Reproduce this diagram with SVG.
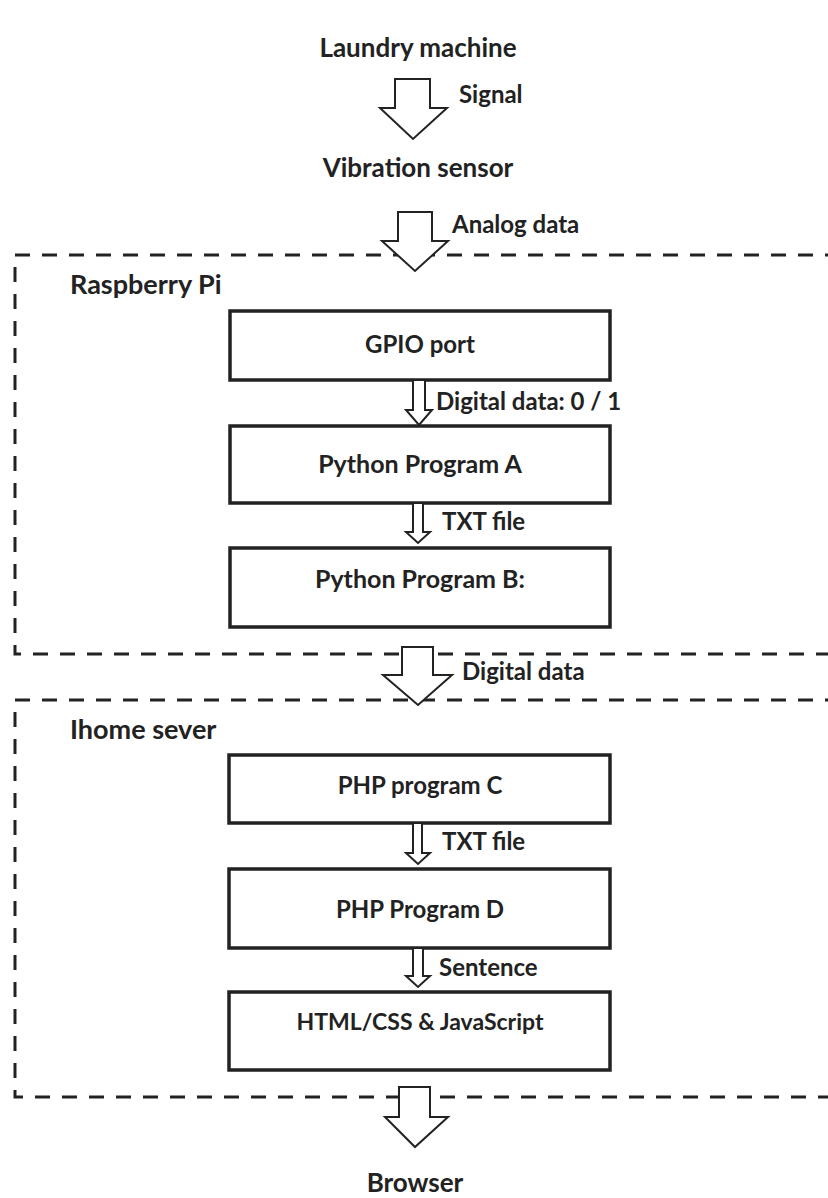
<svg xmlns="http://www.w3.org/2000/svg" width="828" height="1198" viewBox="0 0 828 1198">
<style>
.t{font-family:Lato,"Open Sans","Liberation Sans",sans-serif;font-weight:700;font-size:24px;fill:#222}
.h{font-size:26px}
.g{font-size:27px}
.c{text-anchor:middle}
.box{fill:#fff;stroke:#222;stroke-width:3.5}
.dash{fill:none;stroke:#222;stroke-width:3;stroke-dasharray:15 12}
.arr{fill:#fff;stroke:#222;stroke-width:2;stroke-linejoin:miter}
</style>
<rect width="828" height="1198" fill="#fff"/>
<g id="group-raspberry">
<path class="dash" d="M840,255 H15 V654 H840"/>
<text class="t g" x="70" y="294">Raspberry Pi</text>
</g>
<g id="group-ihome">
<path class="dash" d="M840,700 H15 V1097 H840"/>
<text class="t g" x="70" y="739">Ihome sever</text>
</g>
<g id="laundry"><text class="t h c" x="418" y="57">Laundry machine</text></g>
<g id="sensor"><text class="t h c" x="418" y="177">Vibration sensor</text></g>
<g id="gpio"><rect class="box" x="230" y="311" width="380" height="69"/><text class="t c" x="420" y="353">GPIO port</text></g>
<g id="pyA"><rect class="box" x="230" y="426" width="380" height="77"/><text class="t c" x="420" y="473" style="font-size:25px">Python Program A</text></g>
<g id="pyB"><rect class="box" x="230" y="548" width="380" height="79"/><text class="t c" x="420" y="588" style="font-size:25px">Python Program B:</text></g>
<g id="phpC"><rect class="box" x="229" y="755" width="381" height="68"/><text class="t c" x="420" y="794">PHP program C</text></g>
<g id="phpD"><rect class="box" x="229" y="869" width="381" height="79"/><text class="t c" x="420" y="918">PHP Program D</text></g>
<g id="html"><rect class="box" x="229" y="992" width="381" height="78"/><text class="t c" x="420" y="1030" style="font-size:23px">HTML/CSS &amp; JavaScript</text></g>
<g id="browser"><text class="t h c" x="415" y="1192">Browser</text></g>
<g id="connectors">
<path class="arr" d="M395,79 H430 V108 H447 L413,139 L380,108 H395 Z"/>
<text class="t" x="459" y="103">Signal</text>
<path class="arr" d="M398,212 H432 V241 H448 L415,271 L382,241 H398 Z"/>
<text class="t" x="452" y="233">Analog data</text>
<path class="arr" d="M413,380 H425 V410 H432 L419,425 L406,410 H413 Z"/>
<text class="t" x="436" y="410">Digital data: 0 / 1</text>
<path class="arr" d="M413,503 H423 V532 H430 L418,543 L406,532 H413 Z"/>
<text class="t" x="442" y="530">TXT file</text>
<path class="arr" d="M402,647 H433 V675 H452 L418,705 L383,675 H402 Z"/>
<text class="t" x="462" y="680">Digital data</text>
<path class="arr" d="M413,823 H422 V853 H430 L418,864 L406,853 H413 Z"/>
<text class="t" x="442" y="850">TXT file</text>
<path class="arr" d="M413,948 H423 V976 H430 L418,987 L406,976 H413 Z"/>
<text class="t" x="439" y="976">Sentence</text>
<path class="arr" d="M399,1087 H430 V1117 H448 L415,1147 L385,1117 H399 Z"/>
</g>
</svg>
